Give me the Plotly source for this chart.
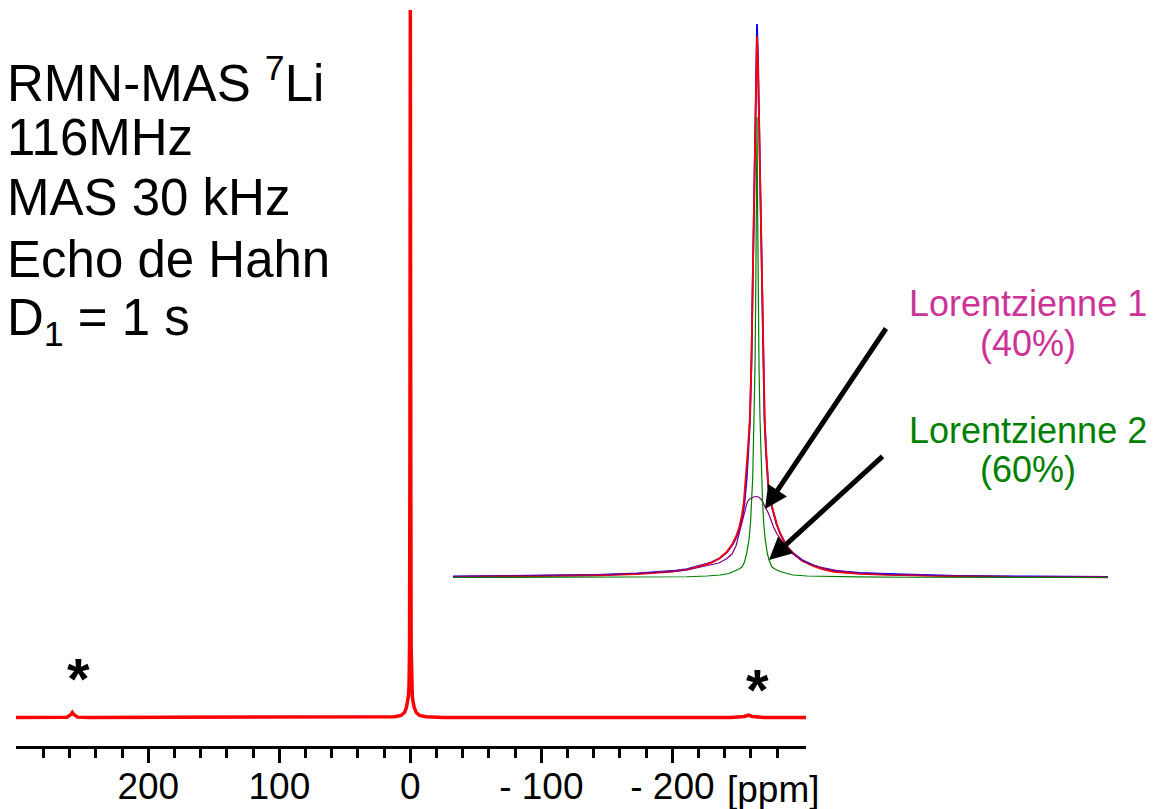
import plotly.graph_objects as go

W, H = 1158, 809

# ---------------- main spectrum (ppm, normalised intensity) ----------------
main_ppm = [301, 270, 262, 259, 258, 257, 254, 245, 150, 60, 25, 12, 7, 4.5, 3.0, 2.2, 1.5,
            1.0, 0.6, 0.3, 0.0, -0.3, -0.6, -1.0, -1.5, -2.2, -3.0, -4.5, -7, -12, -25, -60,
            -150, -245, -255, -258, -261, -270, -302]
main_int = [0.0, 0.0, 0.05, 0.45, 0.7, 0.45, 0.05, 0.0, 0.0, 0.0, 0.0, 0.1, 0.3, 0.7, 1.4, 2.1, 3.0,
            4.4, 10.0, 40.0, 100.0, 40.0, 10.0, 4.4, 3.0, 2.1, 1.4, 0.7, 0.3, 0.1, 0.0, 0.0,
            0.0, 0.0, 0.15, 0.35, 0.15, 0.0, 0.0]

major_vals = [200, 100, 0, -100, -200]
major_text = ["200", "100", "0", "- 100", "- 200"]
minor_vals = [280, 260, 240, 220, 180, 160, 140, 120, 80, 60, 40, 20,
              -20, -40, -60, -80, -120, -140, -160, -180, -220, -240, -260, -280]

# ---------------- inset (zoom on the central line), ppm / intensity (max = 100) ----------------
exp_ppm = [12.16, 10.0, 8.0, 6.4, 4.8, 4.0, 3.4, 2.8, 2.28, 1.88, 1.48, 1.2, 0.96, 0.8, 0.68,
           0.58, 0.5, 0.412, 0.34, 0.28, 0.22, 0.172, 0.12, 0.08, 0.04, 0.0,
           -0.04, -0.08, -0.128, -0.188, -0.252, -0.3, -0.36, -0.452, -0.54, -0.652, -0.78,
           -0.92, -1.16, -1.44, -1.8, -2.24, -2.64, -3.08, -3.6, -4.12, -5.2, -6.4, -8.0,
           -11.0, -14.04]
exp_int = [0.27, 0.36, 0.45, 0.54, 0.81, 0.99, 1.26, 1.62, 2.17, 2.71, 3.61, 4.69, 6.14, 7.58, 9.21,
           11.19, 13.54, 18.05, 23.5, 28.5, 39.7, 54.2, 70.4, 83.0, 93.9, 100.0,
           93.9, 83.0, 70.4, 54.2, 36.1, 28.5, 22.6, 16.4, 13.7, 11.7, 9.75,
           8.12, 5.96, 4.51, 3.25, 2.35, 1.71, 1.26, 1.08, 0.9, 0.72, 0.54, 0.4,
           0.27, 0.18]

fit_ppm = [12.16, 10.0, 8.0, 6.4, 4.8, 4.0, 3.4, 2.8, 2.28, 1.88, 1.5, 1.23, 0.99, 0.83, 0.71,
           0.61, 0.53, 0.44, 0.36, 0.29, 0.22, 0.172, 0.12, 0.08, 0.04, 0.0,
           -0.04, -0.08, -0.128, -0.19, -0.26, -0.31, -0.37, -0.46, -0.55, -0.66, -0.79,
           -0.93, -1.17, -1.45, -1.8, -2.24, -2.64, -3.08, -3.6, -4.12, -5.2, -6.4, -8.0,
           -11.0, -14.04]
fit_int = [0.2, 0.3, 0.38, 0.47, 0.72, 0.9, 1.17, 1.53, 2.08, 2.62, 3.52, 4.6, 6.1, 7.58, 9.21,
           11.19, 13.54, 18.05, 23.5, 28.5, 39.0, 53.5, 69.5, 81.6, 92.1, 97.8,
           92.1, 81.6, 69.5, 53.5, 36.1, 28.5, 22.6, 16.4, 13.7, 11.7, 9.75,
           8.0, 5.8, 4.4, 3.1, 2.2, 1.55, 1.1, 0.9, 0.75, 0.58, 0.42, 0.3,
           0.2, 0.12]

lor1_ppm = [12.16, 8.0, 6.0, 4.8, 4.0, 3.32, 2.8, 2.44, 2.0, 1.52, 1.2, 1.0, 0.84, 0.74, 0.64,
            0.56, 0.48, 0.4, 0.32, 0.24, 0.14, 0.04, -0.06, -0.16, -0.24, -0.32, -0.452,
            -0.56, -0.66, -0.8, -0.988, -1.2, -1.44, -1.8, -2.16, -2.52, -3.2, -4.12, -5.2,
            -6.4, -8.0, -11.0, -14.04]
lor1_int = [0.27, 0.45, 0.6, 0.81, 0.96, 1.21, 1.44, 1.8, 2.17, 2.71, 3.52, 4.33, 5.78, 7.58, 9.57,
            11.19, 12.64, 13.54, 14.17, 14.44, 14.62, 14.71, 14.62, 14.26, 13.63, 12.82, 11.73,
            10.47, 9.21, 7.94, 6.68, 5.42, 4.33, 3.16, 2.44, 1.99, 1.35, 0.9, 0.67,
            0.54, 0.36, 0.25, 0.18]

lor2_ppm = [12.16, 8.0, 6.0, 4.0, 2.8, 2.0, 1.48, 1.12, 0.88, 0.72, 0.6, 0.5, 0.412, 0.32, 0.26,
            0.212, 0.172, 0.148, 0.12, 0.08, 0.052, 0.028, 0.0, -0.028, -0.052, -0.08, -0.12,
            -0.148, -0.18, -0.22, -0.268, -0.32, -0.412, -0.48, -0.6, -0.72, -0.92, -1.2, -1.44,
            -2.0, -2.8, -4.0, -6.0, -8.0, -14.04]
lor2_int = [0.09, 0.11, 0.14, 0.18, 0.23, 0.36, 0.54, 0.81, 1.26, 1.62, 1.99, 2.89, 4.51, 6.86, 9.93,
            14.08, 18.05, 23.1, 28.9, 38.1, 50.5, 65.0, 83.2, 65.0, 50.5, 38.1, 28.9,
            23.1, 18.05, 14.08, 9.93, 7.22, 4.51, 3.25, 1.99, 1.62, 1.17, 0.81, 0.54,
            0.36, 0.27, 0.2, 0.14, 0.11, 0.09]

FONT = "Liberation Sans, Arial, sans-serif"


def px_x(p):
    return p / W


def px_y(p):
    return 1 - p / H


fig = go.Figure()

fig.add_trace(go.Scatter(x=main_ppm, y=main_int, mode="lines",
                         line=dict(color="#FF0000", width=3.5), xaxis="x", yaxis="y",
                         showlegend=False, hoverinfo="skip"))

fig.add_trace(go.Scatter(x=exp_ppm, y=exp_int, mode="lines",
                         line=dict(color="#0000FF", width=1.8), xaxis="x2", yaxis="y2",
                         showlegend=False))
fig.add_trace(go.Scatter(x=fit_ppm, y=fit_int, mode="lines",
                         line=dict(color="#FF0000", width=1.8), xaxis="x2", yaxis="y2",
                         showlegend=False))
fig.add_trace(go.Scatter(x=lor1_ppm, y=lor1_int, mode="lines",
                         line=dict(color="#800080", width=1.2), xaxis="x2", yaxis="y2",
                         showlegend=False))
fig.add_trace(go.Scatter(x=lor2_ppm, y=lor2_int, mode="lines",
                         line=dict(color="#008000", width=1.2), xaxis="x2", yaxis="y2",
                         showlegend=False))

annotations = []
left_lines = [
    ("RMN-MAS <sup>7</sup>Li", 80),
    ("116MHz", 137),
    ("MAS 30 kHz", 197),
    ("Echo de Hahn", 259),
    ("D<sub>1</sub> = 1 s", 321),
]
for txt, ymid in left_lines:
    annotations.append(dict(text=txt, x=px_x(5), y=px_y(ymid), xref="paper", yref="paper",
                            xanchor="left", yanchor="middle", showarrow=False,
                            font=dict(family=FONT, size=51, color="black")))

right_lines = [
    ("Lorentzienne 1", 304, "#CC3399"),
    ("(40%)", 343, "#CC3399"),
    ("Lorentzienne 2", 430, "#008000"),
    ("(60%)", 469, "#008000"),
]
for txt, ymid, col in right_lines:
    annotations.append(dict(text=txt, x=px_x(1028), y=px_y(ymid), xref="paper", yref="paper",
                            xanchor="center", yanchor="middle", showarrow=False,
                            font=dict(family=FONT, size=36, color=col)))

# arrows
for tip, tail in [((765, 509), (887, 327)), ((769, 560), (884, 455))]:
    annotations.append(dict(text="", x=px_x(tip[0]), y=px_y(tip[1]), xref="paper", yref="paper",
                            ax=tail[0] - tip[0], ay=tail[1] - tip[1], showarrow=True,
                            arrowhead=2, arrowsize=0.9, arrowwidth=5, arrowcolor="black"))

# spinning side-band markers
for xx, yy in [(78, 678), (757, 689)]:
    annotations.append(dict(text="<b>*</b>", x=px_x(xx), y=px_y(yy), xref="paper", yref="paper",
                            xanchor="center", yanchor="middle", showarrow=False,
                            font=dict(family=FONT, size=58, color="black")))

annotations.append(dict(text="[ppm]", x=px_x(773), y=px_y(789), xref="paper", yref="paper",
                        xanchor="center", yanchor="middle", showarrow=False,
                        font=dict(family=FONT, size=37, color="black")))

fig.update_layout(
    width=W, height=H,
    margin=dict(l=0, r=0, t=0, b=0, autoexpand=False),
    paper_bgcolor="white", plot_bgcolor="rgba(0,0,0,0)",
    showlegend=False,
    xaxis=dict(domain=[16 / W, 806 / W], range=[301, -302], showgrid=False, zeroline=False,
               showline=True, linecolor="black", linewidth=2.5,
               tickmode="array", tickvals=major_vals, ticktext=major_text,
               ticks="outside", ticklen=15, tickwidth=2.5, tickcolor="black",
               ticklabelstandoff=-9,
               tickfont=dict(family=FONT, size=37, color="black"),
               minor=dict(tickmode="array", tickvals=minor_vals, ticks="outside",
                          ticklen=10, tickwidth=2.5, tickcolor="black"),
               anchor="y", fixedrange=True, automargin=False),
    yaxis=dict(domain=[1 - 745.5 / H, 1], range=[-3.96, 101.41], visible=False,
               fixedrange=True, automargin=False),
    xaxis2=dict(domain=[453 / W, 1108 / W], range=[12.16, -14.04], visible=False,
                anchor="y2", fixedrange=True, automargin=False),
    yaxis2=dict(domain=[1 - 600 / H, 1], range=[-3.97, 104.33], visible=False,
                anchor="x2", fixedrange=True, automargin=False),
    annotations=annotations,
)

fig.write_html("out.html", config={"displayModeBar": False},
               post_script="document.body.style.margin='0';document.body.style.overflow='hidden';")
